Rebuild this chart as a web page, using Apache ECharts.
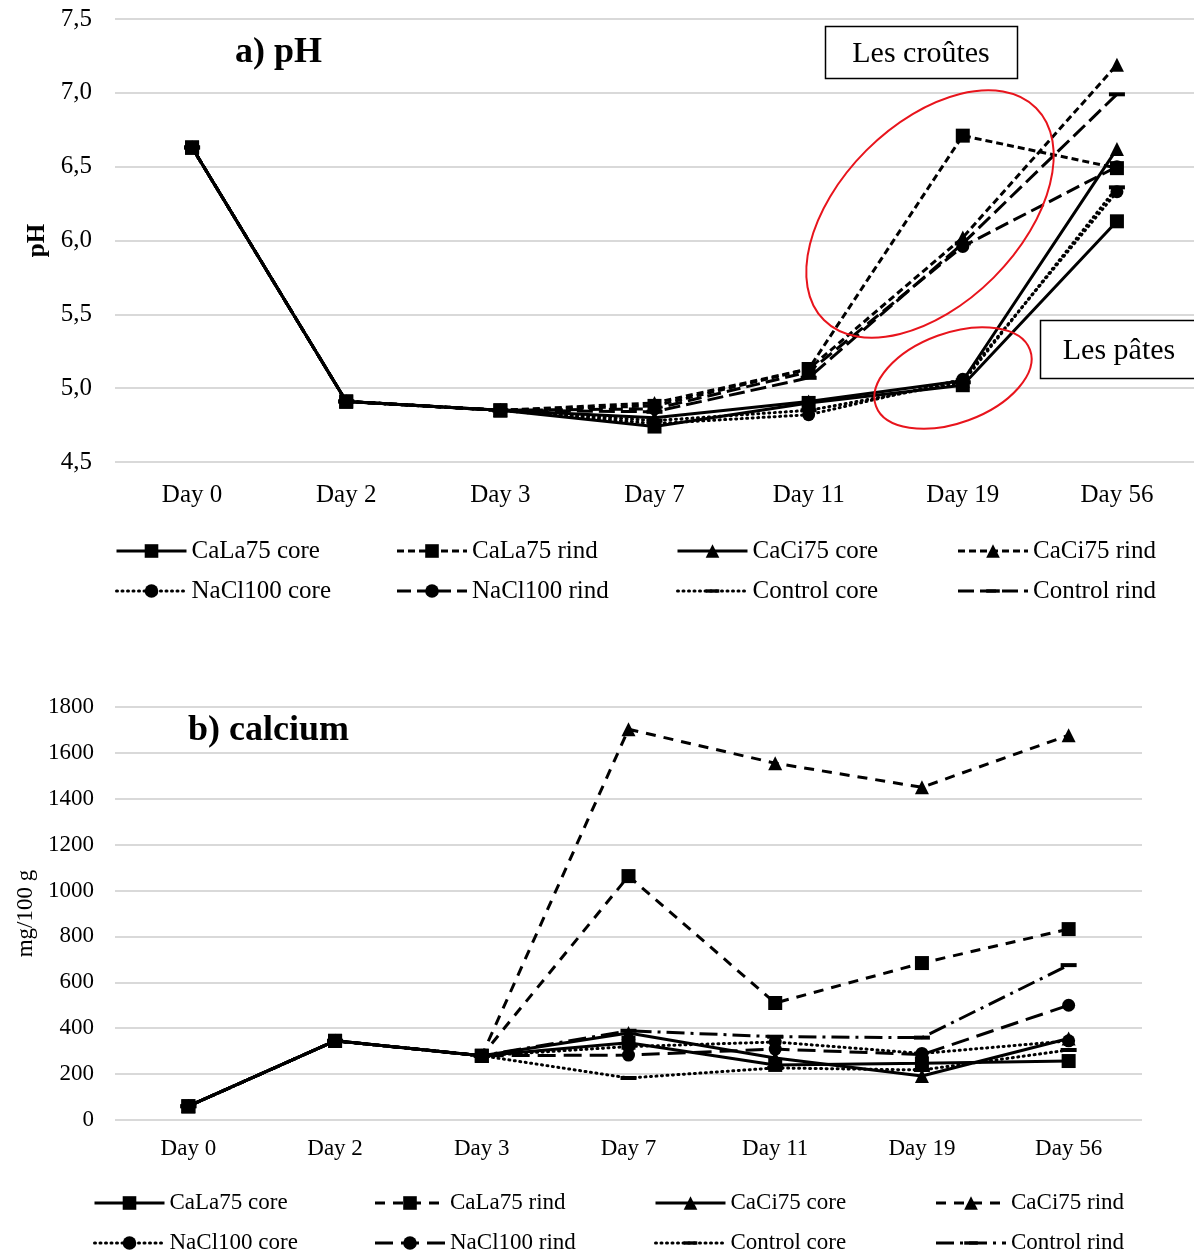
<!DOCTYPE html>
<html>
<head>
<meta charset="utf-8">
<script src="https://cdn.jsdelivr.net/npm/echarts@6/dist/echarts.min.js"></script>
<style>
html,body{margin:0;padding:0;background:#fff;}
#c1{position:absolute;left:0;top:0;width:1194px;height:630px;}
#c2{position:absolute;left:0;top:630px;width:1194px;height:624px;}
</style>
</head>
<body>
<div id="c1"></div>
<div id="c2"></div>
<script>
const days = ['Day 0', 'Day 2', 'Day 3', 'Day 7', 'Day 11', 'Day 19', 'Day 56'];
const seriesNames = ['CaLa75 core', 'CaLa75 rind', 'CaCi75 core', 'CaCi75 rind', 'NaCl100 core', 'NaCl100 rind', 'Control core', 'Control rind'];

// a) pH
const phCaLa75Core  = [6.63, 4.91, 4.85, 4.74, 4.90, 5.02, 6.13];
const phCaLa75Rind  = [6.63, 4.91, 4.85, 4.88, 5.13, 6.71, 6.49];
const phCaCi75Core  = [6.63, 4.91, 4.85, 4.80, 4.91, 5.05, 6.62];
const phCaCi75Rind  = [6.63, 4.91, 4.85, 4.90, 5.13, 6.02, 7.19];
const phNaCl100Core = [6.63, 4.91, 4.85, 4.76, 4.82, 5.06, 6.33];
const phNaCl100Rind = [6.63, 4.91, 4.85, 4.86, 5.11, 5.96, 6.50];
const phControlCore = [6.63, 4.91, 4.85, 4.78, 4.85, 5.04, 6.36];
const phControlRind = [6.63, 4.91, 4.85, 4.84, 5.07, 5.98, 6.99];

// b) calcium (mg/100 g)
const caCaLa75Core  = [60, 345, 280, 337, 240, 247, 257];
const caCaLa75Rind  = [60, 345, 280, 1063, 510, 684, 832];
const caCaCi75Core  = [60, 345, 280, 379, 270, 192, 355];
const caCaCi75Rind  = [60, 345, 280, 1703, 1555, 1450, 1677];
const caNaCl100Core = [60, 345, 280, 320, 340, 290, 345];
const caNaCl100Rind = [60, 345, 280, 283, 309, 285, 500];
const caControlCore = [60, 345, 280, 183, 227, 218, 305];
const caControlRind = [60, 345, 280, 389, 363, 359, 675];

const phTicks = {min: 4.5, max: 7.5, interval: 0.5};
const caTicks = {min: 0, max: 1800, interval: 200};

const FONT = '"Liberation Serif", "Times New Roman", serif';
// short horizontal bar marker, with a square bounding box so it is not stretched
const DASHMARK = 'path://M0,-6M16,10M0,0H16V4H0Z';

function styleSet(lower) {
  return [
    {symbol: 'rect', type: 'solid'},
    {symbol: 'rect', type: lower ? [10, 8] : [7, 4]},
    {symbol: 'triangle', type: 'solid'},
    {symbol: 'triangle', type: lower ? [10, 8] : [7, 4]},
    {symbol: 'circle', type: [1, 4.5], cap: 'round'},
    {symbol: 'circle', type: lower ? [18, 8] : [14, 6]},
    {symbol: DASHMARK, type: [1, 4.5], cap: 'round', dash: true},
    {symbol: DASHMARK, type: lower ? [18, 6, 3, 6] : [16, 6], dash: true}
  ];
}

function makeSeries(arrays, lower) {
  const st = styleSet(lower);
  return arrays.map((arr, i) => ({
    name: seriesNames[i],
    type: 'line',
    data: arr,
    z: i === 1 ? 4 : 2,
    symbol: st[i].symbol,
    symbolSize: st[i].dash ? 16 : (st[i].symbol === 'circle' ? 13 : 14),
    symbolKeepAspect: true,
    showAllSymbol: true,
    itemStyle: {color: '#000'},
    lineStyle: {color: '#000', width: 3, type: st[i].type, cap: st[i].cap || 'butt'},
    emphasis: {disabled: true},
    animation: false
  }));
}

function legendCfg(left, top, fontSize, textW) {
  return {
    left: left, top: top, width: 1150,
    orient: 'horizontal',
    itemGap: 0, itemWidth: 70, itemHeight: 17, padding: 0,
    selectedMode: false,
    data: seriesNames,
    lineStyle: {width: 3},
    textStyle: {fontFamily: FONT, fontSize: fontSize, color: '#000', width: textW, lineHeight: 40, padding: [0, 0, 0, 0]}
  };
}

// ---------- chart a ----------
const c1 = echarts.init(document.getElementById('c1'), null, {renderer: 'canvas'});
c1.setOption({
  animation: false,
  backgroundColor: '#fff',
  grid: {left: 115, top: 19, width: 1079, height: 443, containLabel: false},
  xAxis: {
    type: 'category', data: days, boundaryGap: true,
    axisLine: {show: false}, axisTick: {show: false},
    axisLabel: {fontFamily: FONT, fontSize: 25, color: '#000', margin: 21}
  },
  yAxis: {
    type: 'value', min: phTicks.min, max: phTicks.max, interval: phTicks.interval,
    name: 'pH', nameLocation: 'middle', nameGap: 64, nameRotate: 90,
    nameTextStyle: {fontFamily: FONT, fontSize: 25, fontWeight: 'bold', color: '#000'},
    axisLine: {show: false}, axisTick: {show: false},
    axisLabel: {fontFamily: FONT, fontSize: 25, color: '#000', margin: 23,
      formatter: v => v.toFixed(1).replace('.', ',')},
    splitLine: {lineStyle: {color: '#d9d9d9', width: 2}}
  },
  legend: legendCfg(115, 531, 25, 204),
  series: makeSeries([phCaLa75Core, phCaLa75Rind, phCaCi75Core, phCaCi75Rind, phNaCl100Core, phNaCl100Rind, phControlCore, phControlRind], false),
  graphic: [
    {type: 'text', left: 235, top: 35, style: {text: 'a) pH', font: 'bold 36px ' + FONT, fill: '#000'}},
    {type: 'rect', shape: {x: 825.5, y: 26.5, width: 192, height: 52}, style: {fill: '#fff', stroke: '#000', lineWidth: 1.5}, z: 10},
    {type: 'text', x: 921, y: 54, style: {text: 'Les croûtes', font: '30px ' + FONT, fill: '#000', align: 'center', verticalAlign: 'middle'}, z: 11},
    {type: 'rect', shape: {x: 1040.5, y: 320.5, width: 170, height: 58}, style: {fill: '#fff', stroke: '#000', lineWidth: 1.5}, z: 10},
    {type: 'text', x: 1119, y: 351, style: {text: 'Les pâtes', font: '30px ' + FONT, fill: '#000', align: 'center', verticalAlign: 'middle'}, z: 11},
    {type: 'ellipse', x: 930, y: 214, rotation: Math.PI / 4, shape: {cx: 0, cy: 0, rx: 150, ry: 90}, style: {fill: 'none', stroke: '#e8141c', lineWidth: 2}, z: 12},
    {type: 'ellipse', x: 953, y: 378, rotation: 0.35, shape: {cx: 0, cy: 0, rx: 82, ry: 45}, style: {fill: 'none', stroke: '#e8141c', lineWidth: 2}, z: 12}
  ]
});

// ---------- chart b ----------
const c2 = echarts.init(document.getElementById('c2'), null, {renderer: 'canvas'});
c2.setOption({
  animation: false,
  backgroundColor: '#fff',
  grid: {left: 115, top: 77, width: 1027, height: 413, containLabel: false},
  xAxis: {
    type: 'category', data: days, boundaryGap: true,
    axisLine: {show: false}, axisTick: {show: false},
    axisLabel: {fontFamily: FONT, fontSize: 23, color: '#000', margin: 17}
  },
  yAxis: {
    type: 'value', min: caTicks.min, max: caTicks.max, interval: caTicks.interval,
    name: 'mg/100 g', nameLocation: 'middle', nameGap: 71, nameRotate: 90,
    nameTextStyle: {fontFamily: FONT, fontSize: 23, color: '#000'},
    axisLine: {show: false}, axisTick: {show: false},
    axisLabel: {fontFamily: FONT, fontSize: 23, color: '#000', margin: 21, formatter: v => String(v)},
    splitLine: {lineStyle: {color: '#d9d9d9', width: 2}}
  },
  legend: legendCfg(93, 553, 23, 204),
  series: makeSeries([caCaLa75Core, caCaLa75Rind, caCaCi75Core, caCaCi75Rind, caNaCl100Core, caNaCl100Rind, caControlCore, caControlRind], true),
  graphic: [
    {type: 'text', left: 188, top: 83, style: {text: 'b) calcium', font: 'bold 36px ' + FONT, fill: '#000'}}
  ]
});
</script>
</body>
</html>
